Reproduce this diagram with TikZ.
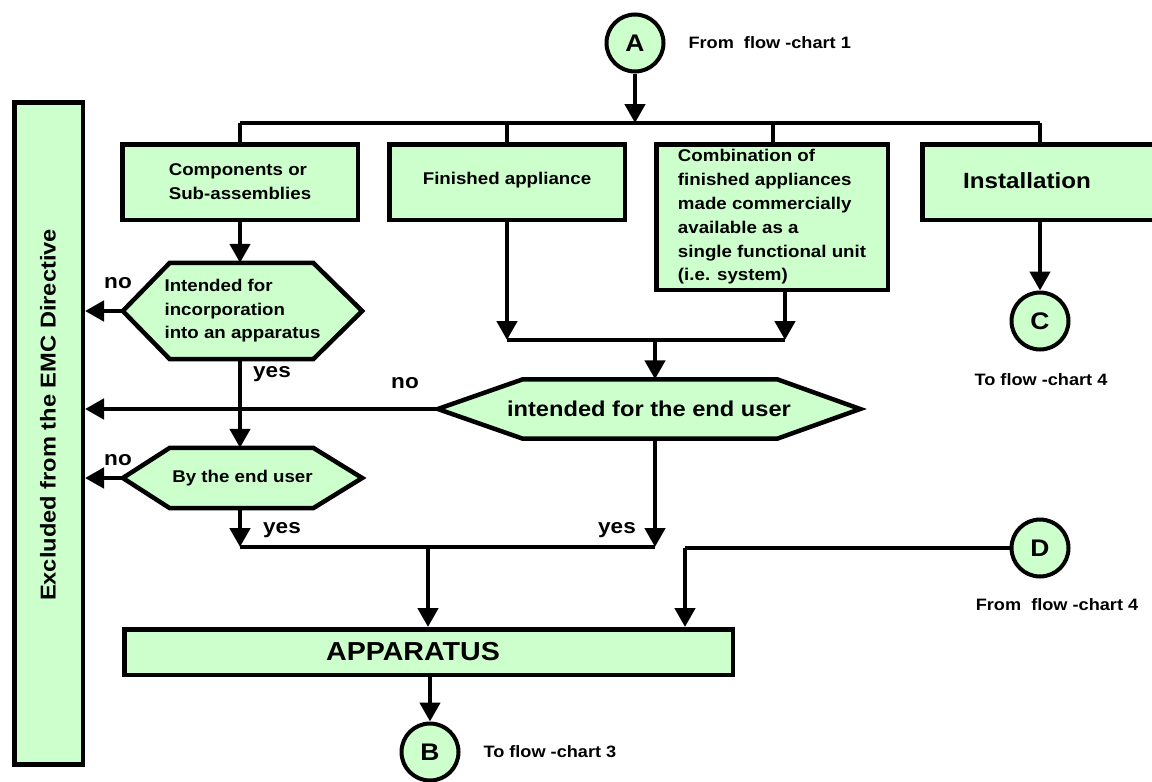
\documentclass[tikz,border=0pt]{standalone}
\usepackage{fontspec}
\setmainfont[FakeStretch=1.1]{Liberation Sans}
\usetikzlibrary{arrows.meta,backgrounds,calc}
\definecolor{lg}{HTML}{CCFFCC}
\tikzset{
  box/.style={draw, fill=lg, line width=4.5pt, inner sep=0pt, font=\bfseries\fontsize{17}{23.8}\selectfont},
  hexnode/.style={inner sep=0pt, font=\bfseries\fontsize{17}{23.5}\selectfont},
  hexline/.style={draw, fill=lg, line width=4.5pt, line join=miter},
  conn/.style={line width=4.5pt},
  arr/.style={line width=4.5pt, -{Triangle[length=19pt,width=20pt]}},
  circ/.style={circle, draw, fill=lg, line width=4pt, minimum size=57pt, inner sep=0pt, font=\bfseries\fontsize{24}{24}\selectfont},
  lab/.style={font=\bfseries\fontsize{16.5}{16.5}\selectfont},
  yn/.style={font=\bfseries\fontsize{20.5}{20.5}\selectfont}
}
\begin{document}
\begin{tikzpicture}[x=1pt,y=-1pt]
\useasboundingbox (0,0) rectangle (1152,782);

% Excluded box
\node[box, minimum width=68.5pt, minimum height=662pt] (excl) at (48.5,433.5) {};
\node[rotate=90, font=\bfseries\fontsize{21.5}{21.5}\selectfont] (exclt) at (48,415) {Excluded from the EMC Directive};

% Top connector A
\node[circ] (A) at (635,43) {A};
\node[lab, anchor=west] (labA) at (685,43) {From\ \ flow -chart 1};
\coordinate (busA) at (635,123);
\coordinate (busL) at (240,123);
\coordinate (busR) at (1040,123);
\draw[arr] (A.south) -- (busA);
\draw[conn] (busL) -- (busR);

% Boxes row
\node[box, minimum width=235.5pt, minimum height=75.5pt, align=left] (b1) at (240,182) {Components or\\Sub-assemblies};
\node[box, minimum width=235.5pt, minimum height=75.5pt] (b2) at (507,182) {};
\node[font=\bfseries\fontsize{17}{17}\selectfont] (b2t) at (507,180) {Finished appliance};
\node[box, minimum width=231.5pt, minimum height=145.5pt, align=left] (b3) at (772,217) {Combination of\\finished appliances\\made commercially\\available as a\\single functional unit\\(i.e. system)};
\node[box, minimum width=235.5pt, minimum height=75.5pt] (b4) at (1040,182) {};
\node[font=\bfseries\fontsize{22}{22}\selectfont] (b4t) at (1027,181) {Installation};

\draw[conn] (busL) -- (b1.north);
\draw[conn] (b2.north |- busL) -- (b2.north);
\draw[conn] (busA -| 773,0) -- (773,0 |- b3.north);
\draw[conn] (busR) -- (b4.north);

% C
\node[circ] (C) at (1040,321) {C};
\node[lab] (labC) at (1041,380) {To flow -chart 4};
\draw[arr] (b4.south) -- (C.north);

% joining line under boxes 2,3
\coordinate (j1) at (507,340);
\coordinate (j2) at (785,340);
\coordinate (j3) at (655,340);
\draw[arr] (b2.south) -- (j1);
\draw[arr] (b3.south -| j2) -- (j2);
\draw[conn] (j1) -- (j2);

% main hexagon
\node[hexnode, minimum width=422pt, minimum height=59pt, font=\bfseries\fontsize{21.5}{21.5}\selectfont] (hx) at (649,409) {intended for the end user};
\begin{scope}[on background layer]
\path[hexline] (hx.west) -- ([xshift=85pt]hx.north west) -- ([xshift=-83pt]hx.north east) -- (hx.east) -- ([xshift=-83pt]hx.south east) -- ([xshift=85pt]hx.south west) -- cycle;
\end{scope}
\draw[arr] (j3) -- (j3 |- hx.north);
\draw[arr] (hx.west) -- (hx.west -| excl.east);
\node[yn] (no2) at (405,383) {no};

% hexagon 1
\node[hexnode, minimum width=239pt, minimum height=96pt, align=left] (h1) at (242.5,311) {Intended for\\incorporation\\into an apparatus};
\begin{scope}[on background layer]
\path[hexline] (h1.west) -- ([xshift=47pt]h1.north west) -- ([xshift=-49pt]h1.north east) -- (h1.east) -- ([xshift=-49pt]h1.south east) -- ([xshift=47pt]h1.south west) -- cycle;
\end{scope}
\draw[arr] (b1.south) -- (b1.south |- h1.north);
\draw[arr] (h1.west) -- (h1.west -| excl.east);
\node[yn] (no1) at (118,283) {no};

% hexagon 2
\node[hexnode, minimum width=239pt, minimum height=60pt] (h2) at (242.5,478) {By the end user};
\begin{scope}[on background layer]
\path[hexline] (h2.west) -- ([xshift=47pt]h2.north west) -- ([xshift=-49pt]h2.north east) -- (h2.east) -- ([xshift=-49pt]h2.south east) -- ([xshift=47pt]h2.south west) -- cycle;
\end{scope}
\draw[arr] (b1.south |- h1.south) -- (b1.south |- h2.north);
\node[yn] (yes1) at (272,374) {yes};
\draw[arr] (h2.west) -- (h2.west -| excl.east);
\node[yn] (no3) at (118,460) {no};

% bottom join
\coordinate (k1) at (240,547);
\coordinate (k2) at (428,547);
\coordinate (k4) at (655,547);
\draw[arr] (b1.south |- h2.south) -- (k1);
\node[yn] (yes2) at (282,530) {yes};
\draw[arr] (j3 |- hx.south) -- (k4);
\node[yn] (yes3) at (617,530) {yes};
\draw[conn] (k1) -- (k4);

% Apparatus
\node[box, minimum width=608.5pt, minimum height=45.5pt, font=\bfseries\fontsize{26}{26}\selectfont] (app) at (428.5,652) {\hspace*{-31pt}APPARATUS};
\draw[arr] (k2) -- (k2 |- app.north);

% D
\node[circ] (D) at (1040,548) {D};
\node[lab] (labD) at (1057,605) {From\ \ flow -chart 4};
\coordinate (d1) at (685,548);
\draw[conn] (D.west) -- (d1);
\draw[arr] (d1) -- (d1 |- app.north);

% B
\node[circ] (B) at (430,752) {B};
\node[lab, anchor=west] (labB) at (480,752) {To flow -chart 3};
\draw[arr] (app.south -| B) -- (B.north);
\end{tikzpicture}
\end{document}
